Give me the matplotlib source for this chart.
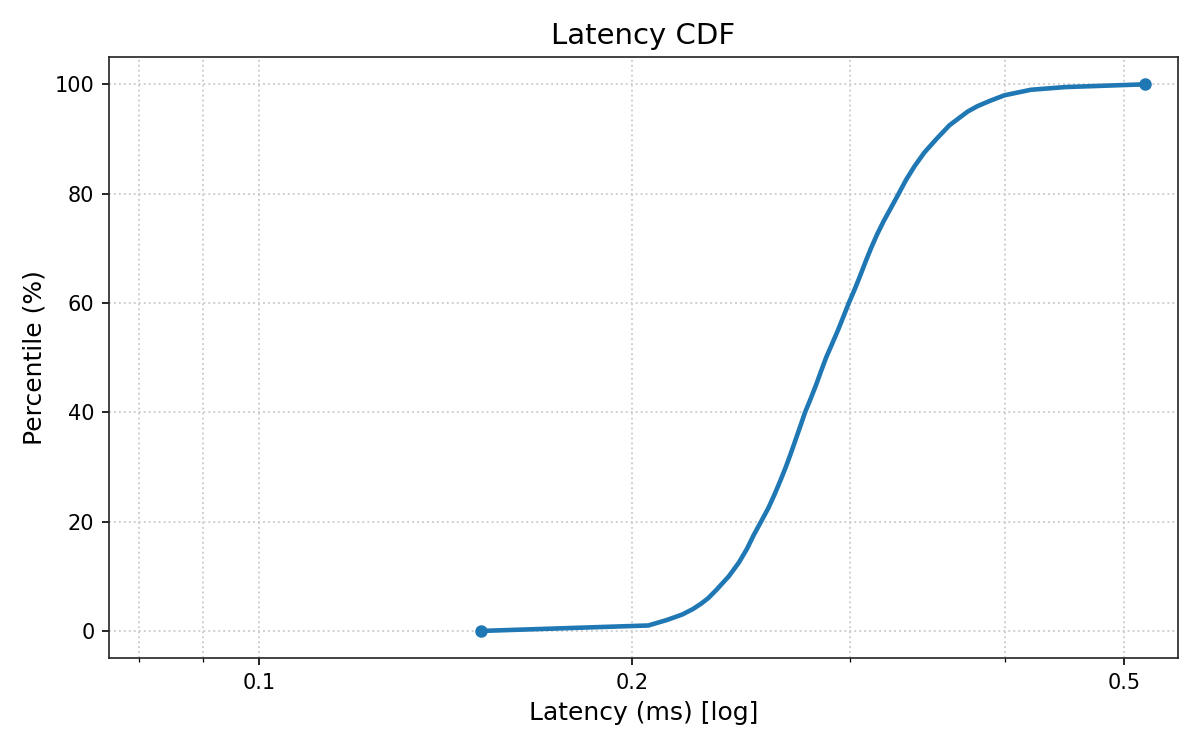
import matplotlib
matplotlib.use("Agg")
import matplotlib.pyplot as plt
from matplotlib.ticker import FixedLocator, NullFormatter

percentiles = [0, 1, 2, 3, 4, 5, 6, 7.5, 10, 12.5, 15, 17.5, 20, 22.5, 25,
               27.5, 30, 32.5, 35, 37.5, 40, 42.5, 45, 47.5, 50, 52.5, 55,
               57.5, 60, 62.5, 65, 67.5, 70, 72.5, 75, 77.5, 80, 82.5, 85,
               87.5, 90, 92.5, 95, 96, 97, 98, 99, 99.5, 100]
latency_ms = [0.151, 0.2062, 0.2134, 0.2196, 0.2240, 0.2275, 0.2305, 0.2340,
              0.2395, 0.2440, 0.2477, 0.2508, 0.2543, 0.2578, 0.2608,
              0.2636, 0.2663, 0.2688, 0.2712, 0.2736, 0.2760, 0.2789, 0.2817,
              0.2843, 0.2870, 0.2902, 0.2934, 0.2964, 0.2994, 0.3027, 0.3058,
              0.3088, 0.3120, 0.3155, 0.3195, 0.3240, 0.3285, 0.3330, 0.3383,
              0.3445, 0.3524, 0.3610, 0.3734, 0.3803, 0.3895, 0.4000, 0.4200,
              0.4480, 0.5190]

major_ticks = [0.1, 0.2, 0.5]
major_labels = ["0.1", "0.2", "0.5"]
minor_ticks = [0.08, 0.09, 0.3, 0.4]
y_ticks = [0, 20, 40, 60, 80, 100]

fig = plt.figure(figsize=(8, 5), dpi=150)
ax = fig.add_axes([0.0908, 0.1223, 0.8906, 0.8017])

ax.plot(latency_ms, percentiles, color="#1f77b4", lw=2.2,
        marker="o", markersize=5, markevery=[0, len(latency_ms) - 1])
ax.set_xscale("log")
ax.set_xlim(0.0756, 0.552)
ax.set_ylim(-5, 105)

ax.xaxis.set_major_locator(FixedLocator(major_ticks))
ax.set_xticklabels(major_labels)
ax.xaxis.set_minor_locator(FixedLocator(minor_ticks))
ax.xaxis.set_minor_formatter(NullFormatter())
ax.set_yticks(y_ticks)

ax.grid(True, which="both", linestyle=":", color="#cccccc", linewidth=0.9)

for s in ax.spines.values():
    s.set_color("#222222")

ax.set_title("Latency CDF", fontsize=14)
ax.set_xlabel("Latency (ms) [log]", fontsize=12)
ax.set_ylabel("Percentile (%)", fontsize=12)

fig.savefig("out.png", dpi=150)
